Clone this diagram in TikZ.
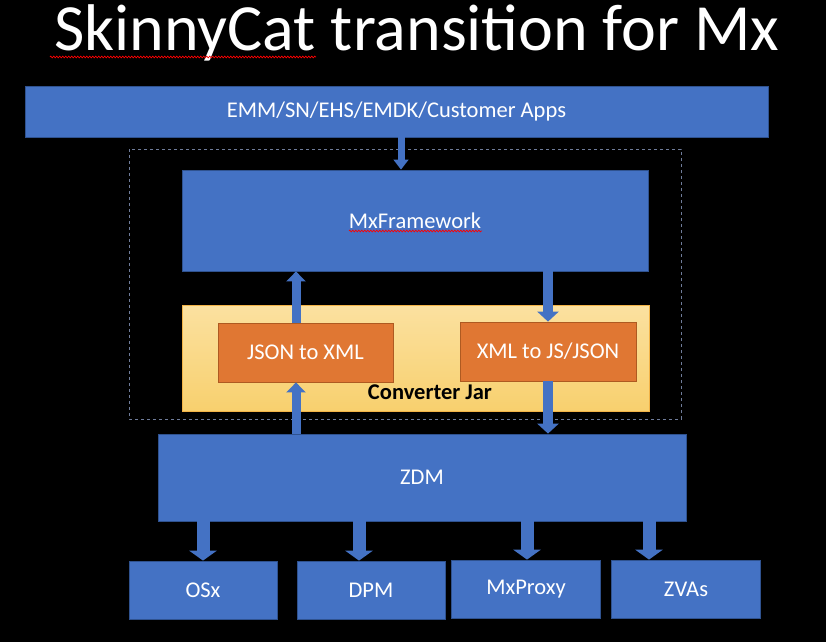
\documentclass[tikz,border=0pt]{standalone}
\usepackage{fontspec}
\setmainfont{Carlito}
\usepackage{xcolor}
\usetikzlibrary{arrows.meta,decorations.pathmorphing}

\definecolor{boxblue}{HTML}{4472C4}
\definecolor{boxedge}{HTML}{2F528F}
\definecolor{convorange}{HTML}{E07733}
\definecolor{convedge}{HTML}{AE5A21}
\definecolor{jartop}{HTML}{FBE1A0}
\definecolor{jarbot}{HTML}{F8D06E}
\definecolor{jaredge}{HTML}{F2B347}
\definecolor{scopegray}{HTML}{6F7C9A}

\tikzset{
    box/.style={fill=boxblue, draw=boxedge, line width=0.8pt, text=white, inner sep=0pt,
        font=\fontsize{22.5}{26}\selectfont},
    conv/.style={box, fill=convorange, draw=convedge},
    blockarrow/.style={draw=boxblue, line width=#1, -{Triangle[width=0pt 2.1, length=10pt 0]}},
    spellmark/.style={draw=red, line width=0.7pt, decorate,
        decoration={zigzag, amplitude=0.8pt, segment length=3pt}}
}

\begin{document}
\begin{tikzpicture}[x=1pt, y=-1pt]
    \fill[black] (0,0) rectangle (826,642);
    \useasboundingbox (0,0) rectangle (826,642);

    \node[text=white, inner sep=0pt, anchor=base, font=\fontsize{66}{70}\selectfont] (title) at (417,51) {SkinnyCat transition for Mx};
    \draw[spellmark] (50,57) -- (316,57);

    \node[box, minimum width=743, minimum height=51] (emm) at (396.5,111.5) {EMM/SN/EHS/EMDK/Customer Apps};
    \draw[scopegray, dashed, line width=0.6pt] (129,149) rectangle (681,419);

    \node[box, minimum width=466, minimum height=101] (mxfw) at (415,220.5) {MxFramework};
    \draw[spellmark] (349,231) -- (482,231);

    \node[draw=jaredge, line width=1pt, top color=jartop, bottom color=jarbot,
        minimum width=467, minimum height=106] (jar) at (415.5,358) {};
    \node[font=\fontsize{22.5}{26}\selectfont\bfseries] (jarlabel) at (430,392) {Converter Jar};
    \node[conv, minimum width=175, minimum height=59] (j2x) at (305.5,352.5) {JSON to XML};
    \node[conv, minimum width=176, minimum height=59] (x2j) at (548,351.5) {XML to JS/JSON};

    \node[box, minimum width=528, minimum height=87] (zdm) at (422,477.5) {ZDM};

    \node[box, minimum width=148, minimum height=58] (osx) at (203,590) {OSx};
    \node[box, minimum width=148, minimum height=58] (dpm) at (371,590) {DPM};
    \node[box, minimum width=149, minimum height=58] (mxproxy) at (526,589) {MxProxy};
    \node[box, minimum width=149, minimum height=58] (zvas) at (686,589) {ZVAs};

    % arrows
    \draw[blockarrow=7pt] (401,0 |- emm.south) -- (401,0 |- mxfw.north);
    \draw[blockarrow=9pt] (296,0 |- j2x.north) -- (296,0 |- mxfw.south);
    \draw[blockarrow=10pt] (548,0 |- mxfw.south) -- (x2j.north);
    \draw[blockarrow=9pt] (296,0 |- zdm.north) -- (296,0 |- j2x.south);
    \draw[blockarrow=10pt] (x2j.south) -- (x2j.south |- zdm.north);
    \foreach \n/\x in {osx/203, dpm/359, mxproxy/527, zvas/649} {
        \draw[blockarrow=13pt] (\x,0 |- zdm.south) -- (\x,0 |- \n.north);
    }
\end{tikzpicture}
\end{document}
